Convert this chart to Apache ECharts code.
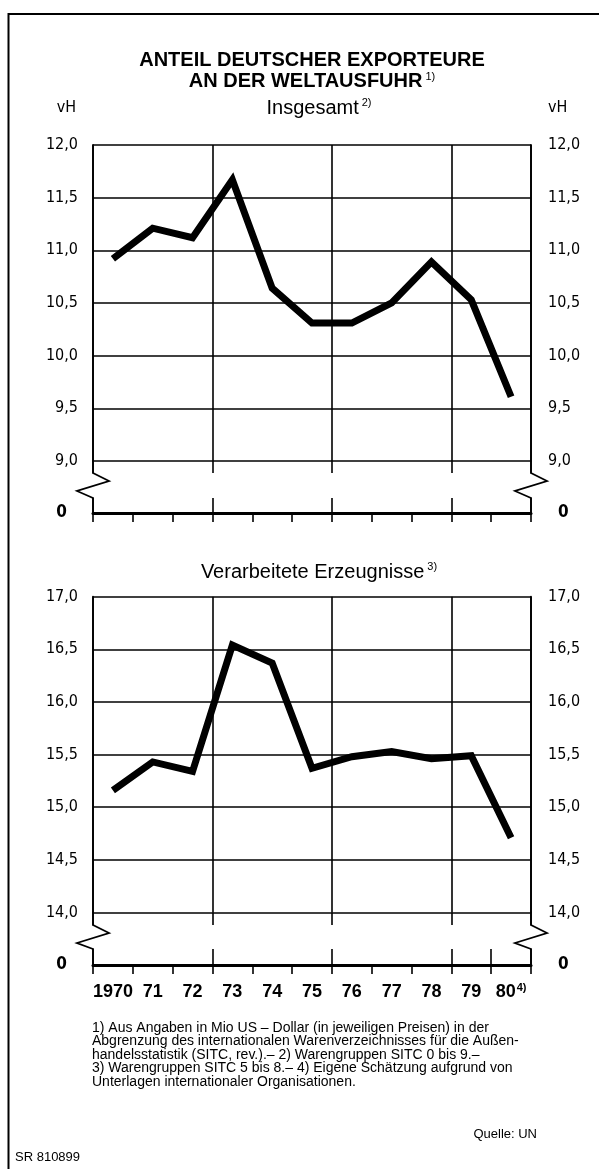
<!DOCTYPE html>
<html>
<head>
<meta charset="utf-8">
<script src="https://cdn.jsdelivr.net/npm/echarts@6/dist/echarts.min.js"></script>
<style>
  html, body { margin: 0; padding: 0; background: #fff; }
  #chart { width: 608px; height: 1169px; }
</style>
</head>
<body>
<div id="chart"></div>
<script>
// Years on the category axis (last year is an estimate, see footnote 4)
const years = ['1970', '71', '72', '73', '74', '75', '76', '77', '78', '79', '80'];

// Share of German exporters in world exports, percent (vH)
const totalShare = [10.92, 11.21, 11.12, 11.67, 10.64, 10.31, 10.31, 10.50, 10.89, 10.53, 9.61];
const manufShare = [15.16, 15.43, 15.34, 16.54, 16.37, 15.37, 15.48, 15.53, 15.46, 15.49, 14.71];

// Value ranges shown above the axis break
const totalRange = [9, 12];
const manufRange = [14, 17];
const tickStep = 0.5;

const titleLines = ['ANTEIL DEUTSCHER EXPORTEURE', 'AN DER WELTAUSFUHR'];
const panelTitles = ['Insgesamt', 'Verarbeitete Erzeugnisse'];
const footnotes = [
  '1) Aus Angaben in Mio US – Dollar (in jeweiligen Preisen) in der',
  'Abgrenzung des internationalen Warenverzeichnisses für die Außen-',
  'handelsstatistik (SITC, rev.).– 2) Warengruppen SITC 0 bis 9.–',
  '3) Warengruppen SITC 5 bis 8.– 4) Eigene Schätzung aufgrund von',
  'Unterlagen internationaler Organisationen.'
];

// ---- layout ----
const W = 608;
const PL = 93, PR = 531;
const NARROW = '"Liberation Sans Narrow", "Arial Narrow", "DejaVu Sans Condensed", sans-serif';
const SANS = '"Liberation Sans", Arial, sans-serif';
const INK = '#000';

// each panel: plot area, short stub under the break line, and the zero strip
const panels = [
  { top: 145, bottom: 461, stubEnd: 473, baseTop: 498, base: 513, range: totalRange, data: totalShare, years: false },
  { top: 596.7, bottom: 912.5, stubEnd: 925, baseTop: 949, base: 965, range: manufRange, data: manufShare, years: true }
];

const fmt = v => v.toFixed(1).replace('.', ',');

const grids = [], xAxes = [], yAxes = [], series = [];

function addGrid(top, bottom, left, right) {
  grids.push({ left: left, right: W - right, top: top, height: bottom - top, containLabel: false });
  return grids.length - 1;
}

function catAxis(gi, extra) {
  return Object.assign({
    type: 'category', gridIndex: gi, data: years, boundaryGap: true,
    axisLine: { show: false }, axisTick: { show: false }, axisLabel: { show: false },
    splitLine: { show: true, interval: 2, lineStyle: { color: INK, width: 1.6 } }
  }, extra || {});
}

function plainY(gi, pos, extra) {
  return Object.assign({
    type: 'value', gridIndex: gi, position: pos, min: 0, max: 1, interval: 1,
    axisLine: { show: true, lineStyle: { color: INK, width: 1.8 } },
    axisTick: { show: false }, axisLabel: { show: false }, splitLine: { show: false }
  }, extra || {});
}

const yearLabels = {
  show: true, interval: 0, margin: 17, color: INK, fontFamily: SANS, fontWeight: 'bold', fontSize: 18,
  lineHeight: 20,
  formatter: (v, i) => (i === years.length - 1 ? v + '{s|4)}' : v),
  rich: { s: { fontFamily: SANS, fontSize: 11, fontWeight: 'bold', verticalAlign: 'top', color: INK, padding: [0, 0, 0, 1] } }
};

panels.forEach(p => {
  // main plot
  const g = addGrid(p.top, p.bottom, PL, PR);
  xAxes.push(catAxis(g));
  const xi = xAxes.length - 1;
  const labelStyle = { color: INK, fontFamily: NARROW, fontSize: 16, formatter: fmt };
  yAxes.push({
    type: 'value', gridIndex: g, position: 'left', min: p.range[0], max: p.range[1], interval: tickStep,
    axisLine: { show: true, lineStyle: { color: INK, width: 1.8 } }, axisTick: { show: false },
    axisLabel: Object.assign({ margin: 15 }, labelStyle),
    splitLine: { show: true, lineStyle: { color: INK, width: 1.6 } }
  });
  const yi = yAxes.length - 1;
  yAxes.push({
    type: 'value', gridIndex: g, position: 'right', min: p.range[0], max: p.range[1], interval: tickStep,
    axisLine: { show: true, lineStyle: { color: INK, width: 1.8 } }, axisTick: { show: false },
    axisLabel: Object.assign({ margin: 17 }, labelStyle),
    splitLine: { show: false }
  });
  series.push({
    type: 'line', xAxisIndex: xi, yAxisIndex: yi, data: p.data, symbol: 'none', z: 5,
    lineStyle: { color: INK, width: 7, join: 'miter', cap: 'butt' }
  });

  // stub below the lowest gridline
  const gs = addGrid(p.bottom, p.stubEnd, PL, PR);
  xAxes.push(catAxis(gs));
  yAxes.push(plainY(gs, 'left'));
  yAxes.push(plainY(gs, 'right'));

  // zero baseline strip, with the year labels under the lower panel
  const gb = addGrid(p.baseTop, p.base, PL, PR);
  xAxes.push(catAxis(gb, {
    position: 'bottom',
    axisLine: { show: true, lineStyle: { color: INK, width: 3 } },
    axisTick: { show: true, interval: 0, length: 9, inside: false, lineStyle: { color: INK, width: 1.6 } },
    axisLabel: p.years ? yearLabels : { show: false }
  }));
  const zeroLabel = { show: true, color: INK, fontFamily: NARROW, fontSize: 17, fontWeight: 'bold',
                      formatter: v => (v === 0 ? '0' : '') };
  yAxes.push(plainY(gb, 'left', { axisLabel: Object.assign({ margin: 26 }, zeroLabel) }));
  yAxes.push(plainY(gb, 'right', { axisLabel: Object.assign({ margin: 27 }, zeroLabel) }));
});

// break marks on both axes
const graphics = [];
panels.forEach(p => {
  [PL, PR].forEach(x => {
    graphics.push({
      type: 'polyline', silent: true,
      shape: { points: [[x, p.stubEnd], [x + 16, p.stubEnd + 8], [x - 16, p.stubEnd + 18], [x, p.baseTop]] },
      style: { stroke: INK, lineWidth: 1.8, fill: null }
    });
  });
});

// frame
graphics.push({ type: 'line', shape: { x1: 8.5, y1: 13, x2: 8.5, y2: 1169 }, style: { stroke: INK, lineWidth: 2 } });
graphics.push({ type: 'line', shape: { x1: 8, y1: 14, x2: 599, y2: 14 }, style: { stroke: INK, lineWidth: 2 } });

// headings
graphics.push({
  type: 'text', x: 312, y: 50,
  style: {
    text: '{t|' + titleLines[0] + '}\n{t|' + titleLines[1] + '}{s|1)}',
    align: 'center', verticalAlign: 'top',
    rich: {
      t: { fontFamily: SANS, fontWeight: 'bold', fontSize: 20, lineHeight: 21, fill: INK },
      s: { fontFamily: SANS, fontSize: 11, verticalAlign: 'top', fill: INK, padding: [0, 0, 0, 3] }
    }
  }
});
const subRich = {
  m: { fontFamily: SANS, fontSize: 20, lineHeight: 21, fill: INK },
  s: { fontFamily: SANS, fontSize: 11, verticalAlign: 'top', fill: INK, padding: [0, 0, 0, 3] }
};
graphics.push({ type: 'text', x: 319, y: 108,
  style: { text: '{m|' + panelTitles[0] + '}{s|2)}', align: 'center', verticalAlign: 'middle', rich: subRich } });
graphics.push({ type: 'text', x: 319, y: 572,
  style: { text: '{m|' + panelTitles[1] + '}{s|3)}', align: 'center', verticalAlign: 'middle', rich: subRich } });

// unit labels
graphics.push({ type: 'text', x: 76, y: 108,
  style: { text: 'vH', align: 'right', verticalAlign: 'middle', fontFamily: NARROW, fontSize: 16, fill: INK } });
graphics.push({ type: 'text', x: 548, y: 108,
  style: { text: 'vH', align: 'left', verticalAlign: 'middle', fontFamily: NARROW, fontSize: 16, fill: INK } });

// footnotes and source
graphics.push({ type: 'text', x: 92, y: 1021,
  style: { text: footnotes.join('\n'), align: 'left', verticalAlign: 'top', lineHeight: 13.5,
           fontFamily: SANS, fontSize: 14, fill: INK } });
graphics.push({ type: 'text', x: 537, y: 1134,
  style: { text: 'Quelle: UN', align: 'right', verticalAlign: 'middle', fontFamily: SANS, fontSize: 13, fill: INK } });
graphics.push({ type: 'text', x: 15, y: 1157,
  style: { text: 'SR 810899', align: 'left', verticalAlign: 'middle', fontFamily: SANS, fontSize: 13, fill: INK } });

const chart = echarts.init(document.getElementById('chart'), null, { renderer: 'canvas' });
chart.setOption({
  animation: false,
  backgroundColor: '#fff',
  grid: grids,
  xAxis: xAxes,
  yAxis: yAxes,
  series: series,
  graphic: graphics
});
</script>
</body>
</html>
